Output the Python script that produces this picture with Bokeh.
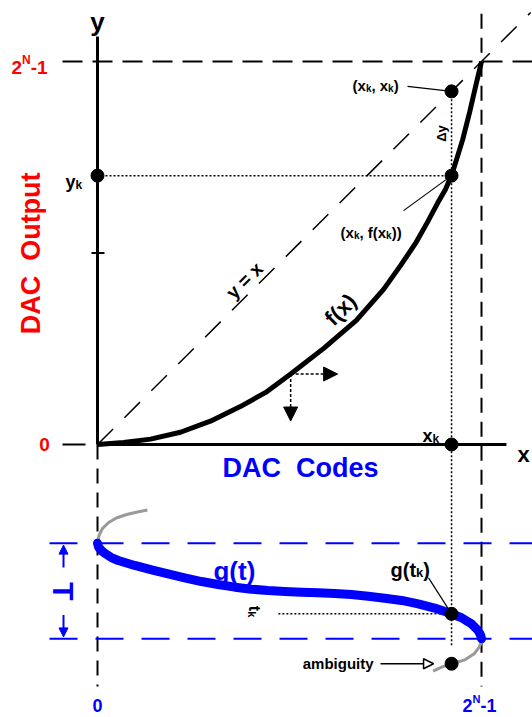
import math
from bokeh.plotting import figure
from bokeh.models import Range1d, Arrow, NormalHead
from bokeh.core.properties import value
from bokeh.embed import file_html
from bokeh.resources import INLINE

# ---- data (normalized: DAC code 0..1, DAC output 0..1) ----
# transfer curve f(x)
F_X = [0.0, 0.068, 0.138, 0.216, 0.294, 0.372, 0.438, 0.503, 0.589, 0.674, 0.745,
       0.789, 0.828, 0.859, 0.885, 0.906, 0.922, 0.935, 0.951, 0.969, 0.984, 1.0]
F_Y = [0.0, 0.005, 0.014, 0.032, 0.061, 0.099, 0.136, 0.184, 0.251, 0.324, 0.405,
       0.467, 0.525, 0.580, 0.629, 0.666, 0.702, 0.744, 0.796, 0.867, 0.932, 1.0]
ARROW_IDX = 7          # point of f where the direction arrows start
XK = 0.922
FXK = 0.702

# g(t): code reached at normalized time t (0..1 spans the period T)
G_T = [0.0, 0.042, 0.084, 0.111, 0.150, 0.181, 0.233, 0.279, 0.321, 0.362, 0.401,
       0.432, 0.460, 0.481, 0.495, 0.505, 0.512, 0.519, 0.526, 0.537, 0.554, 0.575,
       0.599, 0.634, 0.679, 0.739, 0.780, 0.843, 0.913, 0.965, 1.0]
G_X = [0.0, 0.003, 0.012, 0.021, 0.036, 0.054, 0.097, 0.141, 0.184, 0.227, 0.271,
       0.314, 0.358, 0.401, 0.444, 0.488, 0.531, 0.575, 0.618, 0.661, 0.705, 0.748,
       0.792, 0.835, 0.878, 0.922, 0.948, 0.974, 0.991, 0.998, 1.0]
# continuation of g outside the period
G_PRE_T = [-0.347, -0.327, -0.300, -0.264, -0.217, -0.154, -0.081, 0.0]
G_PRE_X = [0.130, 0.104, 0.076, 0.049, 0.029, 0.013, 0.004, 0.0]
G_POST_T = [1.0, 1.04, 1.087, 1.157, 1.220, 1.261, 1.296, 1.338]
G_POST_X = [1.0, 0.999, 0.994, 0.981, 0.957, 0.922, 0.896, 0.874]
TK = 0.739
T_AMB = 1.261

# ---- layout ----
W_PX, H_PX = 532, 717
SX, SY = 384.0, 383.0          # pixels per unit
OX, OY = 97, 444               # origin position on the page
G0, G1 = -0.2577, -0.5073      # plot y of t = 0 and t = 1
FONT = "Liberation Sans"
BLUE = "#0000ff"
RED = "#ff0000"


def gy(t):
    return G0 + t * (G1 - G0)


def dx(px):
    return px / SX


def dy(px):
    return px / SY


p = figure(width=W_PX, height=H_PX, output_backend="svg", toolbar_location=None,
           x_range=Range1d(-OX / SX, (W_PX - OX) / SX),
           y_range=Range1d(-(H_PX - OY) / SY, OY / SY),
           min_border=0)
p.axis.visible = False
p.grid.visible = False
p.outline_line_color = None
p.background_fill_color = "white"
p.border_fill_color = "white"

X_TOP = (W_PX - OX) / SX

# guide lines
p.line([-dx(35), X_TOP], [1, 1], line_color="black", line_width=2, line_dash="20 10")
p.line([-dx(35), -dx(12)], [0, 0], line_color="black", line_width=2)
p.line([0, 1.128], [0, 1.128], line_color="black", line_width=1.5, line_dash="22 16")
p.line([1, 1], [1.125, -0.632], line_color="black", line_width=2, line_dash="15 9")
p.line([0, 0], [0, -0.632], line_color="black", line_width=2, line_dash="15 9")
p.line([-dx(48), X_TOP], [gy(0), gy(0)], line_color=BLUE, line_width=2, line_dash="28 18")
p.line([-dx(48), X_TOP], [gy(1), gy(1)], line_color=BLUE, line_width=2, line_dash="28 18")

# dotted projections
p.line([0, XK], [FXK, FXK], line_color="black", line_width=1.5, line_dash="2 2")
p.line([XK, XK], [XK, gy(1.07)], line_color="black", line_width=1.5, line_dash="2 2")
p.line([0.471, XK], [gy(TK), gy(TK)], line_color="black", line_width=1.5, line_dash="2 2")

# axes
p.line([0, 0], [1.065, 0], line_color="black", line_width=3)
p.line([0, 1.065], [0, 0], line_color="black", line_width=3)
p.line([-dx(6), dx(7)], [0.5, 0.5], line_color="black", line_width=2)

# curves
p.line(F_X, F_Y, line_color="black", line_width=5, line_join="round")
p.line(G_PRE_X, [gy(t) for t in G_PRE_T], line_color="#999999", line_width=3,
       line_join="round")
p.line(G_POST_X, [gy(t) for t in G_POST_T], line_color="#999999", line_width=3,
       line_join="round")
p.line(G_X, [gy(t) for t in G_T], line_color=BLUE, line_width=9,
       line_join="round", line_cap="round")

# leader lines
p.line([XK - dx(44), XK], [XK + dy(5), XK], line_color="black", line_width=1.2)
p.line([XK - dx(48), XK], [FXK - dy(35), FXK], line_color="black", line_width=1.2)
p.line([XK - dx(23), XK], [gy(TK) + dy(36), gy(TK)], line_color="black", line_width=1.2)

# arrows
ax0, ay0 = F_X[ARROW_IDX], F_Y[ARROW_IDX]
p.add_layout(Arrow(end=NormalHead(size=14, fill_color="black", line_color="black"),
                   x_start=ax0, y_start=ay0, x_end=ax0 + dx(47), y_end=ay0,
                   line_width=1.5, line_dash="3 2"))
p.add_layout(Arrow(end=NormalHead(size=14, fill_color="black", line_color="black"),
                   x_start=ax0, y_start=ay0, x_end=ax0, y_end=ay0 - dy(47),
                   line_width=1.5, line_dash="3 2"))
p.add_layout(Arrow(end=NormalHead(size=10, fill_color="white", line_color="black", line_width=1.5),
                   x_start=XK - dx(71), y_start=gy(T_AMB), x_end=XK - dx(18), y_end=gy(T_AMB),
                   line_width=1.5))
TX = -dx(34)
p.add_layout(Arrow(end=NormalHead(size=9, fill_color=BLUE, line_color=BLUE),
                   x_start=TX, y_start=gy(0.254), x_end=TX, y_end=gy(0.02),
                   line_width=2, line_color=BLUE))
p.add_layout(Arrow(end=NormalHead(size=9, fill_color=BLUE, line_color=BLUE),
                   x_start=TX, y_start=gy(0.75), x_end=TX, y_end=gy(0.98),
                   line_width=2, line_color=BLUE))

# points
p.scatter([0, XK, XK, XK, XK, XK], [FXK, XK, FXK, 0, gy(TK), gy(T_AMB)],
          size=13, color="black")

# ---- text ----
CHAR_W = {'(': 0.333, ')': 0.333, 'x': 0.556, 'k': 0.556, ',': 0.278, ' ': 0.278,
          'f': 0.333, 'y': 0.556, 'g': 0.611, 't': 0.333, 'N': 0.722, '2': 0.556,
          '-': 0.333, '1': 0.556}


def label(x, y, s, size, color="black", align="center", baseline="middle", angle=0.0):
    p.text(x=[x], y=[y], text=[s], angle=angle, text_font=value(FONT),
           text_font_style="bold", text_font_size=f"{size}px", text_color=color,
           text_align=align, text_baseline=baseline)


def run_text(x, y, parts, color="black", angle=0.0, baseline="alphabetic"):
    ca, sa = math.cos(angle), math.sin(angle)
    for s, size, rise in parts:
        label(x - sa * rise / SX, y + ca * rise / SY, s, size, color,
              align="left", baseline=baseline, angle=angle)
        adv = sum(CHAR_W[c] for c in s) * size
        x += ca * adv / SX
        y += sa * adv / SY


label(0, dy(OY - 21), "y", 26, baseline="alphabetic")
label(dx(517 - OX), -dy(10), "x", 22, align="left", baseline="alphabetic")
run_text(-dx(86), 1 - dy(6), [("2", 19, 0), ("N", 12, 8), ("-1", 19, 0)], color=RED)
label(-dx(53), 0, "0", 19, color=RED)
run_text(-dx(32), FXK - dy(6), [("y", 18, 0), ("k", 12, -3)])
label(-dx(67), 0.499, "DAC \u00a0Output", 27, color=RED, angle=math.pi / 2)
label(dx(203), -dy(23), "DAC \u00a0Codes", 27, color=BLUE)

run_text(XK - dx(99), XK + dy(6),
         [("(x", 15, 0), ("k", 10, -3), (", x", 15, 0), ("k", 10, -3), (")", 15, 0)])
run_text(XK - dx(111), FXK - dy(57),
         [("(x", 15, 0), ("k", 10, -3), (", f(x", 15, 0), ("k", 10, -3), ("))", 15, 0)])
label(XK - dx(10), (XK + FXK) / 2, "\u0394y", 13, angle=math.pi / 2)
label(0.383, 0.428, "y = x", 19, angle=math.pi / 4)
label(0.633, 0.352, "f(x)", 22, angle=math.pi / 4)
run_text(XK - dx(29), dy(9), [("x", 18, 0), ("k", 12, -3)])

label(0.302, gy(0.286), "g(t)", 26, color=BLUE, align="left", baseline="alphabetic")
run_text(XK - dx(61), gy(TK) + dy(44), [("g(t", 20, 0), ("k", 13, -3), (")", 20, 0)])
run_text(0.409, gy(0.655), [("t", 16, 0), ("k", 11, -3)], angle=-math.pi / 2)
label(TX, gy(0.505), "T", 30, color=BLUE, angle=-math.pi / 2)
label(XK - dx(78), gy(T_AMB), "ambiguity", 15, align="right")
label(0, -dy(261), "0", 18, color=BLUE)
run_text(1 - dx(19), -dy(261), [("2", 18, 0), ("N", 11, 7), ("-1", 18, 0)], color=BLUE,
         baseline="middle")

open("out.html", "w").write(file_html(p, INLINE))
